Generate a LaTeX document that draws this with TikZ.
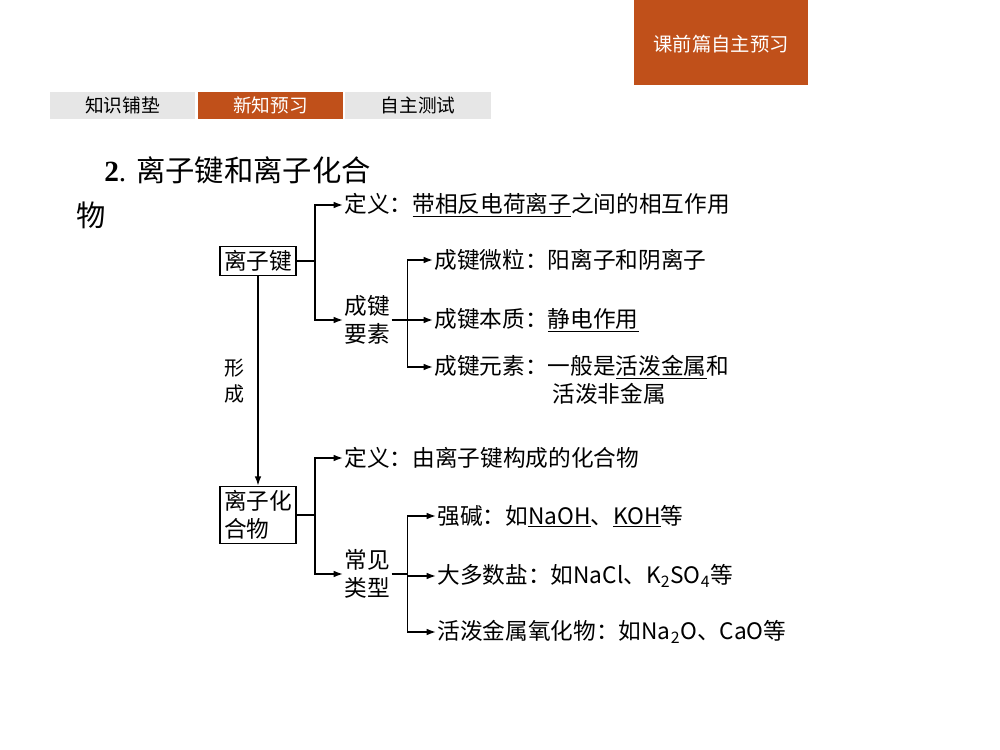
\documentclass[tikz,border=0pt]{standalone}
\usepackage{fontspec}
\setmainfont{Liberation Serif}
\newfontfamily\cjk{Noto Sans CJK SC}
\usetikzlibrary{arrows.meta}
\definecolor{hdorange}{RGB}{192,80,26}
\definecolor{tabgray}{RGB}{230,230,230}
\tikzset{
  txt/.style={anchor=west,inner sep=1pt,font=\cjk\fontsize{17}{21}\selectfont},
  boxed/.style={draw,line width=1.3pt,inner sep=3pt,align=left,font=\cjk\fontsize{17}{21}\selectfont},
  link/.style={line width=1.1pt},
  arr/.style={link,-{Latex[length=7pt,width=5pt]}},
  tab/.style={minimum width=109pt,minimum height=20pt,inner sep=0pt,font=\cjk\fontsize{14}{16}\selectfont}
}
\begin{document}
\begin{tikzpicture}[x=0.75pt,y=0.75pt,yscale=-1,xscale=1]
\useasboundingbox (0,0) rectangle (1000,750);

% header
\fill[hdorange] (634,0) rectangle (808,85);
\node[text=white,font=\cjk\fontsize{14.5}{16}\selectfont] (hdr) at (721,44) {课前篇自主预习};
\node[tab,fill=tabgray] (tabA) at (122.5,105.5) {知识铺垫};
\node[tab,fill=hdorange,text=white] (tabB) at (270.5,105.5) {新知预习};
\node[tab,fill=tabgray] (tabC) at (418,105.5) {自主测试};

% title
\node[anchor=west,inner sep=0pt,font=\fontsize{22}{26}\selectfont] (title) at (104,170) {\textbf{2}. {\cjk 离子键和离子化合}};
\node[anchor=west,inner sep=0pt,font=\cjk\fontsize{22}{26}\selectfont] (title2) at (76,215) {物};

% ionic bond
\node[boxed] (bond) at (258,261) {离子键};
\node[txt] (bdef) at (343,205) {定义：\underline{带相反电荷离子}之间的相互作用};
\node[txt,align=center] (bel) at (343,320) {成键\\要素};
\node[txt] (bpart) at (433,260) {成键微粒：阳离子和阴离子};
\node[txt] (bnat) at (433,320) {成键本质：\underline{静电作用}};
\node[txt] (belem) at (433,367) {成键元素：一般是\underline{活泼金属}和};
\node[txt] (belem2) at (551,394) {活泼非金属};

\draw[link] (bond.east) -- ++(18,0) coordinate (bj);
\draw[arr] (bj) |- (bdef.west);
\draw[arr] (bj) |- (bel.west);
\draw[link] (bel.east) -- ++(16,0) coordinate (ej);
\draw[arr] (ej) |- (bpart.west);
\draw[arr] (ej) -- (bnat.west);
\draw[arr] (ej) |- (belem.west);

% ionic compound
\node[boxed,align=left] (comp) at (258,515) {离子化\\合物};
\draw[arr] (bond.south) -- node[left=6pt,align=center,font=\cjk\fontsize{15}{19}\selectfont] (form) {形\\成} (comp.north);

\node[txt] (cdef) at (343,458) {定义：由离子键构成的化合物};
\node[txt,align=center] (ctype) at (343,574) {常见\\类型};
\node[txt] (tbase) at (436,516) {强碱：如\underline{NaOH}、\underline{KOH}等};
\node[txt] (tsalt) at (436,576) {大多数盐：如NaCl、K\textsubscript{2}SO\textsubscript{4}等};
\node[txt] (toxide) at (436,632) {活泼金属氧化物：如Na\textsubscript{2}O、CaO等};

\draw[link] (comp.east) -- ++(18,0) coordinate (cj);
\draw[arr] (cj) |- (cdef.west);
\draw[arr] (cj) |- (ctype.west);
\draw[link] (ctype.east) -- ++(16,0) coordinate (tj);
\draw[arr] (tj) |- (tbase.west);
\draw[arr] (tj) |- (tsalt.west);
\draw[arr] (tj) |- (toxide.west);

\end{tikzpicture}
\end{document}
